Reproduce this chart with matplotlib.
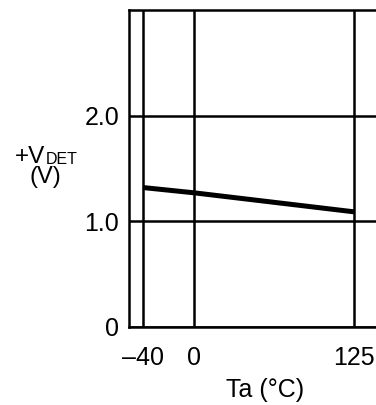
import matplotlib
matplotlib.use("Agg")
import matplotlib.pyplot as plt

plt.rcParams['font.family'] = ['Liberation Sans', 'DejaVu Sans']

# data
temp = [-40, 0, 125]
vdet = [1.32, 1.27, 1.09]

x_ticks = [-40, 0, 125]
x_labels = ["\u201340", "0", "125"]
y_ticks = [0, 1.0, 2.0]
y_labels = ["0", "1.0", "2.0"]

fig = plt.figure(figsize=(3.76, 4.05), dpi=100)
ax = fig.add_axes([129 / 376, 78 / 405, 1 - 129 / 376, 317 / 405])

ax.plot(temp, vdet, color="black", lw=3.6, solid_capstyle="butt", zorder=3)

ax.set_xlim(-50.8, 142.2)
ax.set_ylim(0, 3.0)
ax.set_xticks(x_ticks)
ax.set_xticklabels(x_labels)
ax.set_yticks(y_ticks)
ax.set_yticklabels(y_labels)
ax.tick_params(length=0, labelsize=18)
ax.tick_params(axis="y", pad=7)
ax.tick_params(axis="x", pad=14)
ax.grid(True, color="black", lw=1.8)

for s in ["left", "top", "bottom"]:
    ax.spines[s].set_linewidth(1.8)
ax.spines["right"].set_visible(False)

fig.text(265.5 / 376, 1 - 397 / 405, "Ta (\u00b0C)", fontsize=18,
         ha="center", va="baseline")
# y label: +V with DET subscript, then (V)
fig.text(45 / 376, 1 - 163 / 405, "+V", fontsize=17.5,
         ha="right", va="baseline")
fig.text(46 / 376, 1 - 164.5 / 405, "DET", fontsize=11.5,
         ha="left", va="baseline")
fig.text(45.5 / 376, 1 - 183 / 405, "(V)", fontsize=17,
         ha="center", va="baseline")

fig.savefig("out.png", dpi=100)
